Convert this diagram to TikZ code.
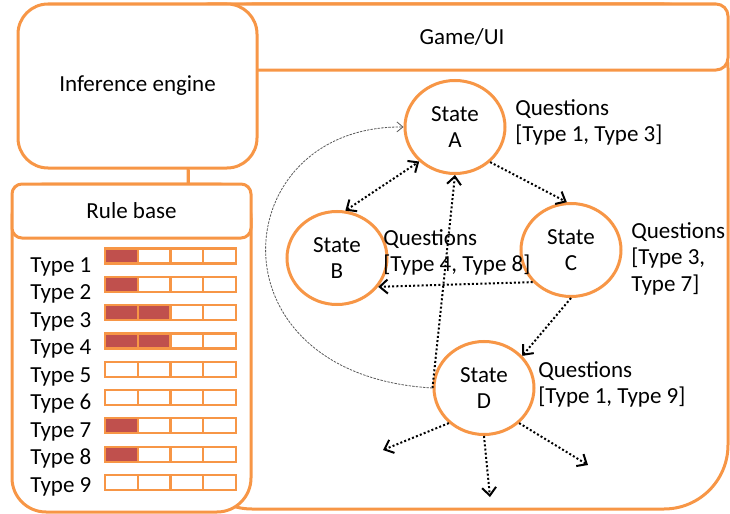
\documentclass[tikz,border=0pt]{standalone}
\usepackage{fontspec}
\setmainfont{Carlito}
\usetikzlibrary{shapes.geometric,arrows.meta,positioning}

\definecolor{frameorange}{HTML}{F79646}
\definecolor{cellred}{HTML}{C0504D}

\tikzset{barb/.tip={Straight Barb[length=4pt,width=7pt,line width=1pt]}}

\begin{document}
\begin{tikzpicture}[
  x=0.5pt, y=-0.5pt,
  every node/.style={font=\fontsize{11.5}{13.3}\selectfont},
  panel/.style={rectangle, draw=frameorange, line width=1.5pt, fill=white, align=center},
  statenode/.style={ellipse, draw=frameorange, line width=1.5pt, fill=white, minimum width=50pt, minimum height=46.5pt, inner sep=0pt, align=center},
  qlabel/.style={anchor=north west, inner sep=0pt, align=left},
  typelabel/.style={anchor=base west, inner sep=0pt},
  cell/.style={draw=frameorange, line width=1.1pt},
  flow/.style={line width=1pt, dash pattern=on 1pt off 1.1pt, -barb},
  feedback/.style={gray!70!black, line width=0.4pt, dash pattern=on 1.2pt off 0.6pt, -{Straight Barb[length=3pt,width=5pt,line width=0.4pt]}}
]
\useasboundingbox (0,0) rectangle (730,514);

% frames
\node[panel, fill=none, minimum width=270pt, minimum height=252.5pt, rounded corners=32pt] (game) at (458,256.5) {};
\node[panel, minimum width=266pt, minimum height=33pt, rounded corners=6pt] (gameui) at (462,37) {Game/UI};
\node[panel, minimum width=119.5pt, minimum height=82pt, rounded corners=15pt] (engine) at (137.5,86) {Inference engine};
\node[panel, minimum width=119.5pt, minimum height=164pt, rounded corners=17pt] (rulebase) at (131.5,348) {};
\node[panel, minimum width=119.5pt, minimum height=27pt, rounded corners=5pt] (rulehead) at (131.5,211) {Rule base};

\coordinate (link) at ([xshift=25.25pt]engine.south);
\draw[frameorange, line width=1.5pt] (link) -- (link |- rulehead.north);

% rule types
\foreach \n/\k in {1/1,2/1,3/2,4/2,5/0,6/0,7/1,8/1,9/0}{
  \pgfmathsetmacro\yb{256+28.3*(\n-1)}
  \pgfmathsetmacro\yl{272+27.5*(\n-1)}
  \node[typelabel] (type\n) at (30,\yl) {Type \n};
  \foreach \c in {1,...,4}{
    \pgfmathsetmacro\xa{105+32.75*(\c-1)}
    \ifnum\c>\k \def\cellfill{white}\else\def\cellfill{cellred}\fi
    \draw[cell, fill=\cellfill] (\xa,\yb-7.5) rectangle (\xa+32.75,\yb+7.5);
  }
}

% states
\node[statenode] (A) at (455,127) {State\\A};
\node[statenode] (B) at (337,258) {State\\B};
\node[statenode] (C) at (571,250) {State\\C};
\node[statenode] (D) at (484,388) {State\\D};

\node[qlabel] (qA) at (515,99) {Questions\\{[}Type 1, Type 3{]}};
\node[qlabel] (qB) at (383,229) {Questions\\{[}Type 4, Type 8{]}};
\node[qlabel] (qC) at (631,222) {Questions\\{[}Type 3,\\Type 7{]}};
\node[qlabel] (qD) at (538,361) {Questions\\{[}Type 1, Type 9{]}};

% transitions
\draw[flow, barb-barb] (B.80) -- (A.224);
\draw[flow] (A.-45) -- (C.95);
\draw[flow] (D.west) -- (A.south);
\draw[flow] (C.220) -- (B.-35);
\draw[flow] (C.south) -- (D.40);

\coordinate (outL) at (383,450);
\coordinate (outM) at (490,497);
\coordinate (outR) at (588,465);
\draw[flow] (D.225) -- (outL);
\draw[flow] (D.south) -- (outM);
\draw[flow] (D.-45) -- (outR);

\draw[feedback] (D.west) .. controls (205,375) and (225,125) .. (A.west);

\end{tikzpicture}
\end{document}
